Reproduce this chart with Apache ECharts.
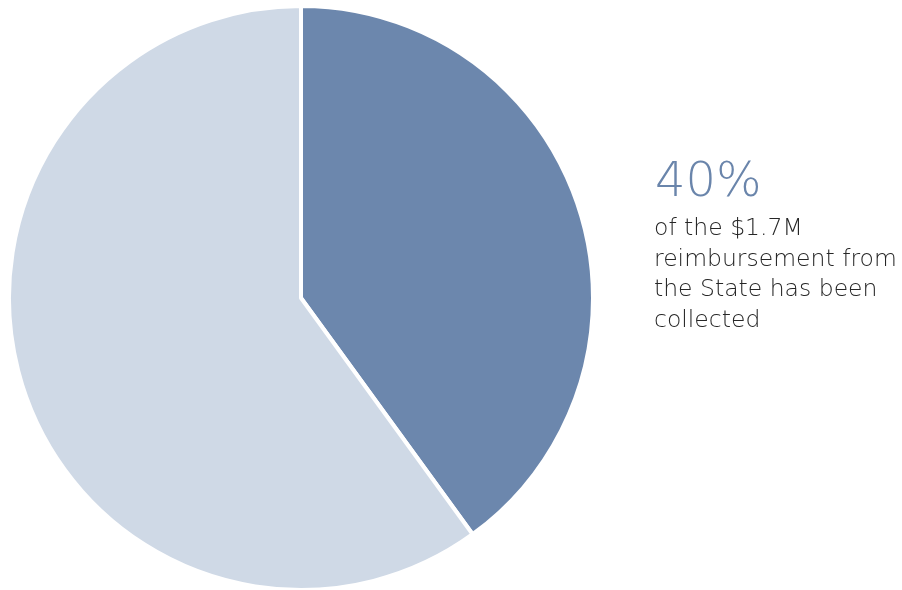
<!DOCTYPE html>
<html>
<head>
<meta charset="utf-8">
<script src="https://cdn.jsdelivr.net/npm/echarts@6/dist/echarts.min.js"></script>
<style>
  html, body { margin: 0; padding: 0; background: #ffffff; }
  #chart { width: 902px; height: 590px; }
</style>
</head>
<body>
<div id="chart"></div>
<script>
// Reimbursement status: share collected vs. outstanding
const categories = ['Collected', 'Outstanding'];
const shares = [40, 60];
const totalLabel = '$1.7M';
const colors = ['#6c87ad', '#cfd9e6'];

const chart = echarts.init(document.getElementById('chart'), null, { renderer: 'canvas' });

const collectedPct = Math.round(shares[0] / (shares[0] + shares[1]) * 100);

chart.setOption({
  animation: false,
  backgroundColor: '#ffffff',
  series: [{
    type: 'pie',
    center: [301, 298],
    radius: 292,
    startAngle: 90,
    clockwise: true,
    label: { show: false },
    labelLine: { show: false },
    emphasis: { disabled: true },
    itemStyle: { borderColor: '#ffffff', borderWidth: 4 },
    data: categories.map((name, i) => ({
      name: name,
      value: shares[i],
      itemStyle: { color: colors[i] }
    }))
  }],
  graphic: [
    {
      type: 'text',
      left: 655,
      top: 160,
      style: {
        text: collectedPct + '%',
        fill: '#6a85ab',
        font: '200 48px "DejaVu Sans", sans-serif'
      }
    },
    {
      type: 'text',
      left: 654,
      top: 214,
      style: {
        text: 'of the ' + totalLabel + '\nreimbursement from\nthe State has been\ncollected',
        fill: '#262626',
        lineHeight: 30.5,
        font: '200 23.5px "DejaVu Sans", sans-serif'
      }
    }
  ]
});
</script>
</body>
</html>
